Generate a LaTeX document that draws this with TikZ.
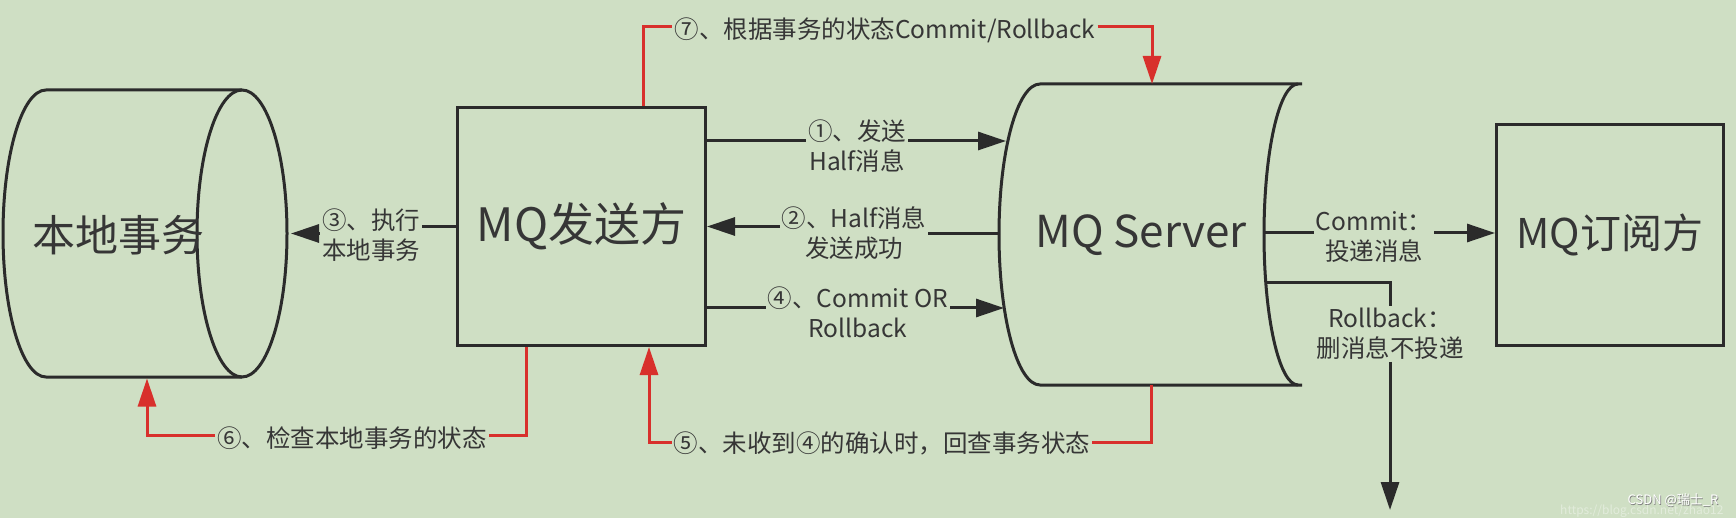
\documentclass[tikz,border=0pt]{standalone}
\usepackage{fontspec}
\setmainfont{Noto Sans CJK SC}
\usetikzlibrary{arrows.meta}
\definecolor{bg}{HTML}{CFDFC4}
\definecolor{ink}{HTML}{2B2B2B}
\definecolor{txt}{HTML}{363636}
\definecolor{rd}{HTML}{D8302C}
\begin{document}
\begin{tikzpicture}[x=1pt,y=-1pt,
  shapeline/.style={draw=ink,line width=3pt},
  conn/.style={draw=ink,line width=3pt},
  arr/.style={conn,-{Triangle[length=28pt,width=18pt]}},
  redl/.style={draw=rd,line width=3pt},
  redarr/.style={redl,-{Triangle[length=28pt,width=18pt]}},
  lab/.style={text=txt,font=\fontsize{24.5}{30}\selectfont,align=center,inner sep=2pt},
  big/.style={text=txt,font=\fontsize{44}{50}\selectfont,inner sep=0pt},
  holder/.style={draw=none,inner sep=0pt,outer sep=0pt}]
\fill[bg] (0,0) rectangle (1736,518);
\useasboundingbox (0,0) rectangle (1736,518);

% local transaction cylinder
\node[holder,minimum width=288pt,minimum height=290pt] (ldb) at (147,233.5) {};
\draw[shapeline] (46,90) -- (242,90) arc[start angle=90,end angle=-90,x radius=45pt,y radius=143.5pt]
  -- (46,377) arc[start angle=270,end angle=90,x radius=43pt,y radius=143.5pt] -- cycle;
\draw[shapeline] (242,377) arc[start angle=270,end angle=90,x radius=45pt,y radius=143.5pt];
\node[big,font=\fontsize{43}{50}\selectfont] (ldbt) at (118,235) {本地事务};

% sender
\node[shapeline,big,font=\fontsize{46}{52}\selectfont,minimum width=248pt,minimum height=238pt] (snd) at (581.5,226.5) {MQ发送方};

% server
\node[holder,minimum width=303pt,minimum height=301pt] (srv) at (1150.5,234.5) {};
\draw[shapeline] (1302,84) -- (1040,84) arc[start angle=90,end angle=270,x radius=41pt,y radius=150.5pt] -- (1302,385);
\draw[shapeline] (1298,84) arc[start angle=90,end angle=270,x radius=34pt,y radius=150.5pt];
\node[big] (srvt) at (1141,235) {MQ Server};

% subscriber
\node[shapeline,big,font=\fontsize{41}{48}\selectfont,minimum width=227pt,minimum height=221pt] (sub) at (1610,235) {MQ订阅方};

% labels
\node[lab] (L1) at (857,146.5) {①、发送\\Half消息};
\node[lab] (L2) at (854,233) {②、Half消息\\发送成功};
\node[lab] (L3) at (371,235) {③、执行\\本地事务};
\node[lab] (L4) at (858,312) {④、Commit OR\\Rollback};
\node[lab] (L7) at (885,30) {⑦、根据事务的状态Commit/Rollback};
\node[lab] (L5) at (882,443) {⑤、未收到④的确认时，回查事务状态};
\node[lab] (L6) at (352,438) {⑥、检查本地事务的状态};
\node[lab] (Lc) at (1374,237) {Commit：\\投递消息};
\node[lab] (Lr) at (1390,334) {Rollback：\\删消息不投递};

% connector points
\coordinate (a1) at (1006,141);
\coordinate (a2) at (1000,234);
\coordinate (a4) at (1004,308);
\coordinate (c1) at (1264,233);
\coordinate (c2) at (1266,283);
\coordinate (r2) at (1390,283);
\coordinate (rend) at (1390,510);
\coordinate (r7a) at (643,27);
\coordinate (r7b) at (1152,27);
\coordinate (r6a) at (526,435);
\coordinate (r6b) at (147,435);
\coordinate (r5a) at (1151,442);
\coordinate (r5b) at (649,442);

% black connectors
\draw[conn] (snd.east |- a1) -- (L1.west |- a1);
\draw[arr] (L1.east |- a1) -- (a1);
\draw[conn] (a2) -- (L2.east |- a2);
\draw[arr] (L2.west |- snd.east) -- (snd.east);
\draw[conn] (snd.west) -- (L3.east |- snd.west);
\draw[arr] (L3.west |- ldb.east) -- (ldb.east);
\draw[conn] (snd.east |- a4) -- (L4.west |- a4);
\draw[arr] (L4.east |- a4) -- (a4);
\draw[conn] (c1) -- (Lc.west |- c1);
\draw[arr] (Lc.east |- c1) -- (sub.west |- c1);
\draw[conn] (c2) -- (r2) -- (Lr.north -| r2);
\draw[arr] (Lr.south -| r2) -- (rend);

% red connectors
\draw[redl] (snd.north -| r7a) -- (r7a) -- (L7.west |- r7a);
\draw[redarr] (L7.east |- r7a) -- (r7b) -- (r7b |- srv.north);
\draw[redl] (snd.south -| r6a) -- (r6a) -- (L6.east |- r6a);
\draw[redarr] (L6.west |- r6b) -- (r6b) -- (r6b |- ldb.south);
\draw[redl] (srv.south -| r5a) -- (r5a) -- (L5.east |- r5a);
\draw[redarr] (L5.west |- r5b) -- (r5b) -- (r5b |- snd.south);

% watermark
\node[font=\fontsize{13}{13}\selectfont,text=gray] at (1673.8,500.8) {CSDN @瑞士\_R};
\node[font=\fontsize{13}{13}\selectfont,text=white] (wm) at (1673,500) {CSDN @瑞士\_R};
\node[anchor=west,font=\fontsize{12}{12}\selectfont,text=white,opacity=0.4,inner sep=0pt] (url) at (1560,511) {https://blog.csdn.net/zhao12};
\end{tikzpicture}
\end{document}
